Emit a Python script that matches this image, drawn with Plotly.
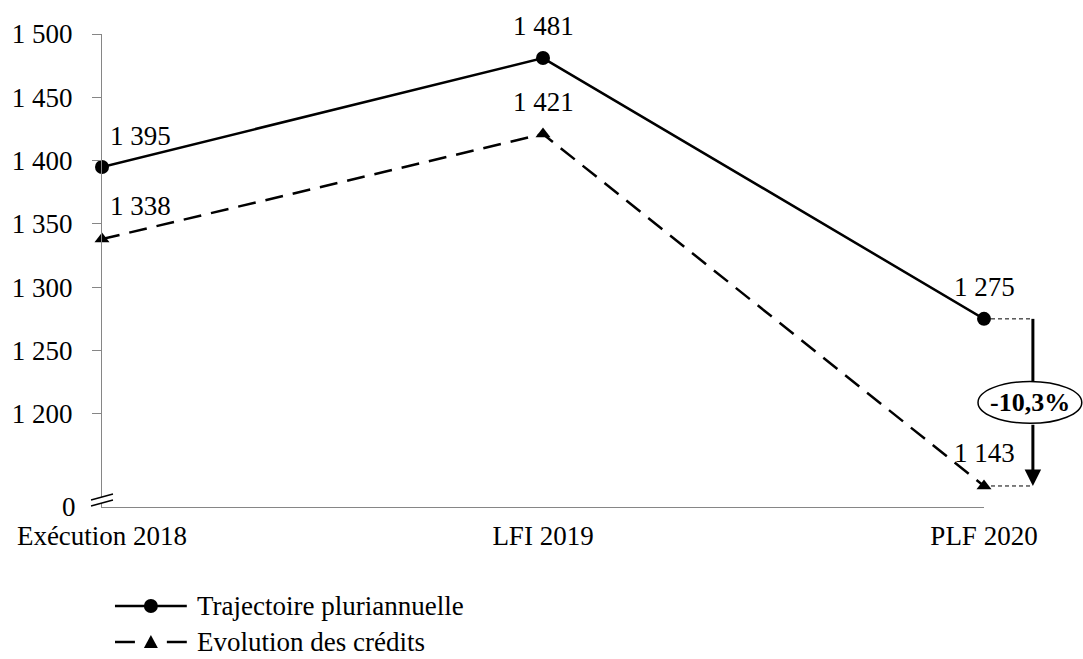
import plotly.graph_objects as go

# ---- data ----
categories = ["Exécution 2018", "LFI 2019", "PLF 2020"]
trajectoire = [1395, 1481, 1275]
credits = [1338, 1421, 1143]
series_names = ["Trajectoire pluriannuelle", "Evolution des crédits"]
y_tick_values = [1200, 1250, 1300, 1350, 1400, 1450, 1500]
variation_label = "-10,3%"

FONT = "Liberation Serif"
FS = 27
W, H = 1083, 659
L, R, T, B = 100, 984, 34, 507
Y_BOTTOM = 1126.4
Y_TOP = 1500


def px_x(px):
    return (px - L) / (R - L)


def px_y(py):
    return (B - py) / (B - T)


def fmt(v):
    return f"{v:,}".replace(",", " ")


fig = go.Figure()
fig.add_trace(go.Scatter(
    x=categories, y=trajectoire, mode="lines+markers", name=series_names[0],
    line=dict(color="black", width=2.5),
    marker=dict(symbol="circle", size=14, color="black"),
    cliponaxis=False, showlegend=False, hoverinfo="skip"))
fig.add_trace(go.Scatter(
    x=categories, y=credits, mode="lines+markers", name=series_names[1],
    line=dict(color="black", width=2.5, dash="18px,10px"),
    marker=dict(symbol="triangle-up", size=13, color="black"),
    cliponaxis=False, showlegend=False, hoverinfo="skip"))

annotations = []
# data labels
offsets_traj = [(38, 31), (0, 32), (0, 32)]
offsets_cred = [(38, 33), (0, 32), (0, 33)]
for vals, offs in ((trajectoire, offsets_traj), (credits, offsets_cred)):
    for c, v, (dx, dy) in zip(categories, vals, offs):
        annotations.append(dict(x=c, y=v, xref="x", yref="y", text=fmt(v),
                                showarrow=False, xshift=dx, yshift=dy,
                                xanchor="center", yanchor="middle",
                                font=dict(family=FONT, size=FS, color="black")))

# "0" label at the broken axis bottom
annotations.append(dict(x=0, y=Y_BOTTOM, xref="paper", yref="y", text="0",
                        showarrow=False, xanchor="right", yanchor="middle", xshift=-24,
                        font=dict(family=FONT, size=FS, color="black")))

ARROW_PX = 1033
ell_c = (trajectoire[-1] + credits[-1]) / 2
ell_h = 16.5
# arrow lower part with head (tail in y data units, no x offset)
annotations.append(dict(x=px_x(ARROW_PX), y=credits[-1], xref="paper", yref="y",
                        ax=0, ay=ell_c - ell_h, axref="pixel", ayref="y",
                        text="", showarrow=True, arrowhead=2, arrowsize=1.1,
                        arrowwidth=3, arrowcolor="black", standoff=0))
# variation label
annotations.append(dict(x=px_x(1030), y=ell_c, xref="paper", yref="y",
                        text="<b>" + variation_label + "</b>", showarrow=False,
                        xanchor="center", yanchor="middle",
                        font=dict(family=FONT, size=26, color="black")))

shapes = []
# dotted guides
for v in (trajectoire[-1], credits[-1]):
    shapes.append(dict(type="line", xref="paper", yref="y", x0=1.0, x1=px_x(ARROW_PX),
                       y0=v, y1=v, line=dict(color="black", width=1, dash="4px,3px")))
# arrow upper shaft
shapes.append(dict(type="line", xref="paper", yref="y", x0=px_x(ARROW_PX), x1=px_x(ARROW_PX),
                   y0=trajectoire[-1], y1=ell_c + ell_h, line=dict(color="black", width=3)))
# ellipse
shapes.append(dict(type="circle", xref="paper", yref="y", x0=px_x(978), x1=px_x(1082),
                   y0=ell_c - ell_h, y1=ell_c + ell_h, fillcolor="white",
                   line=dict(color="black", width=1.5), layer="above"))

# axis break marks
shapes.append(dict(type="path", xref="paper", yref="paper",
                   path=f"M{px_x(89)},{px_y(506)} L{px_x(111)},{px_y(500)} L{px_x(111)},{px_y(494)} L{px_x(89)},{px_y(500)} Z",
                   fillcolor="white", line=dict(width=0), layer="above"))
for y0 in (500, 506):
    shapes.append(dict(type="line", xref="paper", yref="paper",
                       x0=px_x(89), y0=px_y(y0), x1=px_x(111), y1=px_y(y0 - 6),
                       line=dict(color="black", width=1.3), layer="above"))

# custom legend
leg_rows = [606, 642]
shapes.append(dict(type="line", xref="paper", yref="paper", x0=px_x(113), x1=px_x(185),
                   y0=px_y(leg_rows[0]), y1=px_y(leg_rows[0]), line=dict(color="black", width=2.5)))
r = 7
shapes.append(dict(type="circle", xref="paper", yref="paper",
                   x0=px_x(149 - r), x1=px_x(149 + r), y0=px_y(leg_rows[0] + r), y1=px_y(leg_rows[0] - r),
                   fillcolor="black", line=dict(color="black", width=0)))
for a, b in ((113, 133), (165, 185)):
    shapes.append(dict(type="line", xref="paper", yref="paper", x0=px_x(a), x1=px_x(b),
                       y0=px_y(leg_rows[1]), y1=px_y(leg_rows[1]), line=dict(color="black", width=2.5)))
ty = leg_rows[1]
shapes.append(dict(type="path", xref="paper", yref="paper",
                   path=f"M{px_x(142)},{px_y(ty + 6)} L{px_x(156)},{px_y(ty + 6)} L{px_x(149)},{px_y(ty - 7)} Z",
                   fillcolor="black", line=dict(width=0)))
for name, yy in zip(series_names, leg_rows):
    annotations.append(dict(x=px_x(194), y=px_y(yy), xref="paper", yref="paper", text=name,
                            showarrow=False, xanchor="left", yanchor="middle", borderpad=0,
                            font=dict(family=FONT, size=FS, color="black")))

fig.update_layout(
    width=W, height=H,
    margin=dict(l=L, r=W - R, t=T, b=H - B, pad=0),
    paper_bgcolor="white", plot_bgcolor="white",
    font=dict(family=FONT, size=FS, color="black"),
    xaxis=dict(type="category", categoryorder="array", categoryarray=categories,
               range=[0, 2], showgrid=False, zeroline=False, showline=True,
               linecolor="#868686", linewidth=1.3, ticks="", ticklabelstandoff=4,
               tickfont=dict(family=FONT, size=FS, color="black")),
    yaxis=dict(range=[Y_BOTTOM, Y_TOP], tickvals=y_tick_values,
               ticktext=[fmt(v) for v in y_tick_values], showgrid=False, zeroline=False,
               showline=True, linecolor="#868686", linewidth=1.3, ticks="outside",
               ticklen=9, tickcolor="#868686", tickwidth=1.3, ticklabelstandoff=14,
               tickfont=dict(family=FONT, size=FS, color="black")),
    annotations=annotations, shapes=shapes, showlegend=False,
)

fig.write_html("out.html", config={"displayModeBar": False},
               post_script="document.body.style.margin='0';document.body.style.overflow='hidden';")
